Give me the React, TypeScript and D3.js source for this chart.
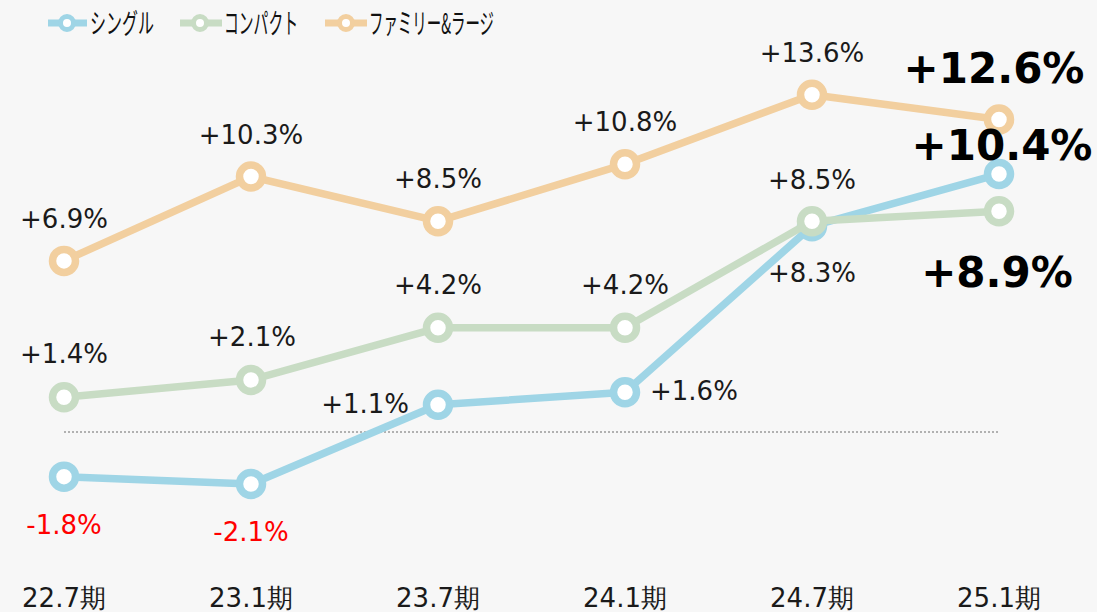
import React from "react";
import * as d3 from "d3";

const categories = ["22.7期", "23.1期", "23.7期", "24.1期", "24.7期", "25.1期"];
const singleValues = [-1.8, -2.1, 1.1, 1.6, 8.3, 10.4];
const compactValues = [1.4, 2.1, 4.2, 4.2, 8.5, 8.9];
const familyValues = [6.9, 10.3, 8.5, 10.8, 13.6, 12.6];
const seriesNames = ["シングル", "コンパクト", "ファミリー&ラージ"];

type Place = { dx: number; dy: number; anchor: "start" | "middle" | "end"; big?: boolean };

const singlePlaces: Place[] = [
  { dx: 0, dy: 57, anchor: "middle" },
  { dx: 0, dy: 57, anchor: "middle" },
  { dx: -29, dy: 8, anchor: "end" },
  { dx: 25, dy: 8, anchor: "start" },
  { dx: 0, dy: 56, anchor: "middle" },
  { dx: 3, dy: -14, anchor: "middle", big: true },
];
const compactPlaces: Place[] = [
  { dx: 0, dy: -34, anchor: "middle" },
  { dx: 1, dy: -34, anchor: "middle" },
  { dx: 0, dy: -34, anchor: "middle" },
  { dx: 0, dy: -34, anchor: "middle" },
  { dx: 0, dy: -32, anchor: "middle" },
  { dx: -2, dy: 76, anchor: "middle", big: true },
];
const familyPlaces: Place[] = [
  { dx: 0, dy: -33, anchor: "middle" },
  { dx: 0, dy: -33, anchor: "middle" },
  { dx: 0, dy: -33, anchor: "middle" },
  { dx: 0, dy: -33, anchor: "middle" },
  { dx: 0, dy: -33, anchor: "middle" },
  { dx: -5, dy: -37, anchor: "middle", big: true },
];

const colors = ["#9fd5e6", "#c8dcc4", "#f2cf9f"];
const W = 1097;
const H = 612;

const fmt = (v: number) => (v >= 0 ? "+" : "") + v.toFixed(1) + "%";

export default function App() {
  const x = d3.scalePoint<string>().domain(categories).range([64, 999]);
  const y = d3.scaleLinear().domain([0, 10]).range([432, 184]);
  const line = d3
    .line<number>()
    .x((_, i) => x(categories[i]) as number)
    .y((d) => y(d));

  const series = [
    { name: seriesNames[0], values: singleValues, places: singlePlaces, color: colors[0] },
    { name: seriesNames[1], values: compactValues, places: compactPlaces, color: colors[1] },
    { name: seriesNames[2], values: familyValues, places: familyPlaces, color: colors[2] },
  ];

  const legendItems = [
    { x1: 48, x2: 87, cx: 67, tx: 90, tw: 64 },
    { x1: 180, x2: 222, cx: 200, tx: 224, tw: 74 },
    { x1: 325, x2: 367, cx: 346, tx: 369, tw: 125 },
  ];

  const font = "'DejaVu Sans', Verdana, sans-serif";

  return (
    <svg
      width={W}
      height={H}
      style={{ position: "absolute", left: 0, top: 0, display: "block" }}
    >
      <rect x={0} y={0} width={W} height={H} fill="#f7f7f7" />
      {/* zero line */}
      <line
        x1={x(categories[0])}
        x2={x(categories[categories.length - 1])}
        y1={y(0)}
        y2={y(0)}
        stroke="#9a9a9a"
        strokeWidth={1.3}
        strokeDasharray="2,2"
      />
      {/* legend */}
      {series.map((s, i) => {
        const L = legendItems[i];
        return (
          <g key={"lg" + i}>
            <line x1={L.x1} x2={L.x2} y1={23} y2={23} stroke={s.color} strokeWidth={7} />
            <circle cx={L.cx} cy={23} r={6.5} fill="#ffffff" stroke={s.color} strokeWidth={5} />
            <text
              x={L.tx}
              y={34}
              fontFamily="'Noto Sans CJK JP', sans-serif"
              fontSize={28}
              fill="#111111"
              textLength={L.tw}
              lengthAdjust="spacingAndGlyphs"
            >
              {s.name}
            </text>
          </g>
        );
      })}
      {/* lines and markers */}
      {series.map((s, i) => (
        <g key={"s" + i}>
          <path d={line(s.values) || ""} fill="none" stroke={s.color} strokeWidth={7.5} strokeLinejoin="round" />
          {s.values.map((v, j) => (
            <circle
              key={j}
              cx={x(categories[j])}
              cy={y(v)}
              r={11.5}
              fill="#ffffff"
              stroke={s.color}
              strokeWidth={7.5}
            />
          ))}
        </g>
      ))}
      {/* data labels */}
      {series.map((s, i) =>
        s.values.map((v, j) => {
          const p = s.places[j];
          return (
            <text
              key={"t" + i + "-" + j}
              x={(x(categories[j]) as number) + p.dx}
              y={y(v) + p.dy}
              textAnchor={p.anchor}
              fontFamily={font}
              fontSize={p.big ? 42 : 26}
              fontWeight={p.big ? "bold" : "normal"}
              fill={v < 0 ? "#ff0000" : p.big ? "#000000" : "#1a1a1a"}
            >
              {fmt(v)}
            </text>
          );
        })
      )}
      {/* x axis labels */}
      {categories.map((c) => (
        <text
          key={c}
          x={x(c)}
          y={607}
          textAnchor="middle"
          fontFamily={font}
          fontSize={26}
          fill="#1a1a1a"
        >
          {c}
        </text>
      ))}
    </svg>
  );
}
